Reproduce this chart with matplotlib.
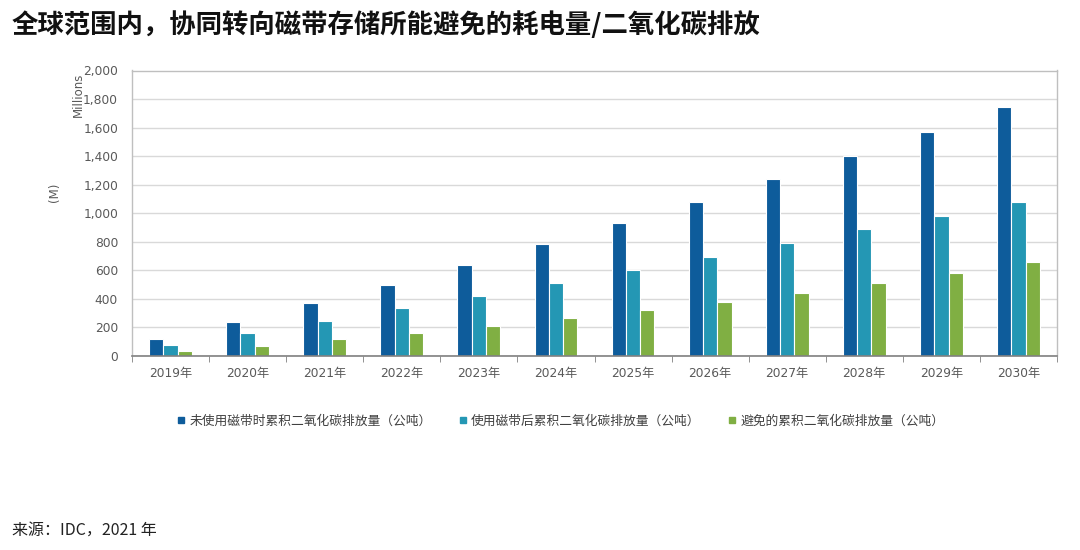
import matplotlib
matplotlib.use("Agg")
import matplotlib.pyplot as plt
from matplotlib.lines import Line2D
import numpy as np

plt.rcParams['font.family'] = ['DejaVu Sans', 'Noto Sans CJK SC']

years = ["2019年", "2020年", "2021年", "2022年", "2023年", "2024年",
         "2025年", "2026年", "2027年", "2028年", "2029年", "2030年"]
without_tape = [117, 241, 369, 498, 638, 785, 930, 1082, 1238, 1404, 1572, 1742]
with_tape = [79, 159, 245, 336, 420, 512, 603, 696, 790, 888, 981, 1078]
avoided = [35, 72, 117, 161, 210, 266, 322, 381, 444, 512, 584, 659]
series_names = ["未使用磁带时累积二氧化碳排放量（公吨）",
                "使用磁带后累积二氧化碳排放量（公吨）",
                "避免的累积二氧化碳排放量（公吨）"]
colors = ["#0E5C9B", "#2497B4", "#80AF43"]

fig = plt.figure(figsize=(10.8, 5.5), dpi=100)
ax = fig.add_axes([132/1080, 1-356/550, (1057-132)/1080, (356-70.5)/550])

x = np.arange(len(years))
w = 0.185
for i, (vals, c) in enumerate(zip([without_tape, with_tape, avoided], colors)):
    ax.bar(x + (i-1)*w, vals, width=w, color=c, edgecolor="white", linewidth=0.8, zorder=3)

ax.set_xlim(-0.5, len(years)-0.5)
ax.set_ylim(0, 2000)
ax.set_yticks(np.arange(0, 2001, 200))
ax.set_yticklabels([f"{v:,}" for v in range(0, 2001, 200)], fontsize=8.8, color="#595959")
ax.yaxis.grid(True, color="#D9D9D9", linewidth=1, zorder=0)
ax.tick_params(axis='y', length=0, pad=10)

ax.set_xticks(x)
ax.set_xticklabels(years, fontsize=8.8, color="#595959")
ax.set_xticks(np.arange(-0.5, len(years), 1), minor=True)
ax.tick_params(axis='x', which='major', length=0, pad=8)
ax.tick_params(axis='x', which='minor', length=4, color="#808080", direction='out')

for s in ['left', 'right', 'top']:
    ax.spines[s].set_color("#BFBFBF")
    ax.spines[s].set_linewidth(1)
ax.spines['bottom'].set_color("#808080")
ax.spines['bottom'].set_linewidth(1.2)
ax.spines['bottom'].set_zorder(4)

fig.text(78/1080, 1-95/550, "Millions", rotation=90, ha='center', va='center',
         fontsize=8.5, color="#595959")
fig.text(55/1080, 1-192/550, "(M)", rotation=90, ha='center', va='center',
         fontsize=8.5, color="#595959")

handles = [Line2D([0], [0], marker='s', linestyle='None', markersize=4.5,
                  markerfacecolor=c, markeredgecolor=c) for c in colors]
fig.legend(handles, series_names, loc='center', bbox_to_anchor=(561/1080, 1-421/550),
           ncol=3, frameon=False, handlelength=0.5, handletextpad=0.4,
           columnspacing=2.2, labelcolor="#404040",
           prop={'family': ['Noto Sans CJK SC'], 'size': 9.2})

fig.text(12/1080, 1-25/550, "全球范围内，协同转向磁带存储所能避免的耗电量/二氧化碳排放",
         ha='left', va='center', fontsize=19, fontweight='bold', color="#111111",
         family=['Noto Sans CJK SC', 'DejaVu Sans'])
fig.text(12/1080, 1-530/550, "来源：IDC，2021 年", ha='left', va='center',
         fontsize=11.5, color="#222222", family=['Noto Sans CJK SC', 'DejaVu Sans'])

fig.savefig("out.png", dpi=100, facecolor="white")
